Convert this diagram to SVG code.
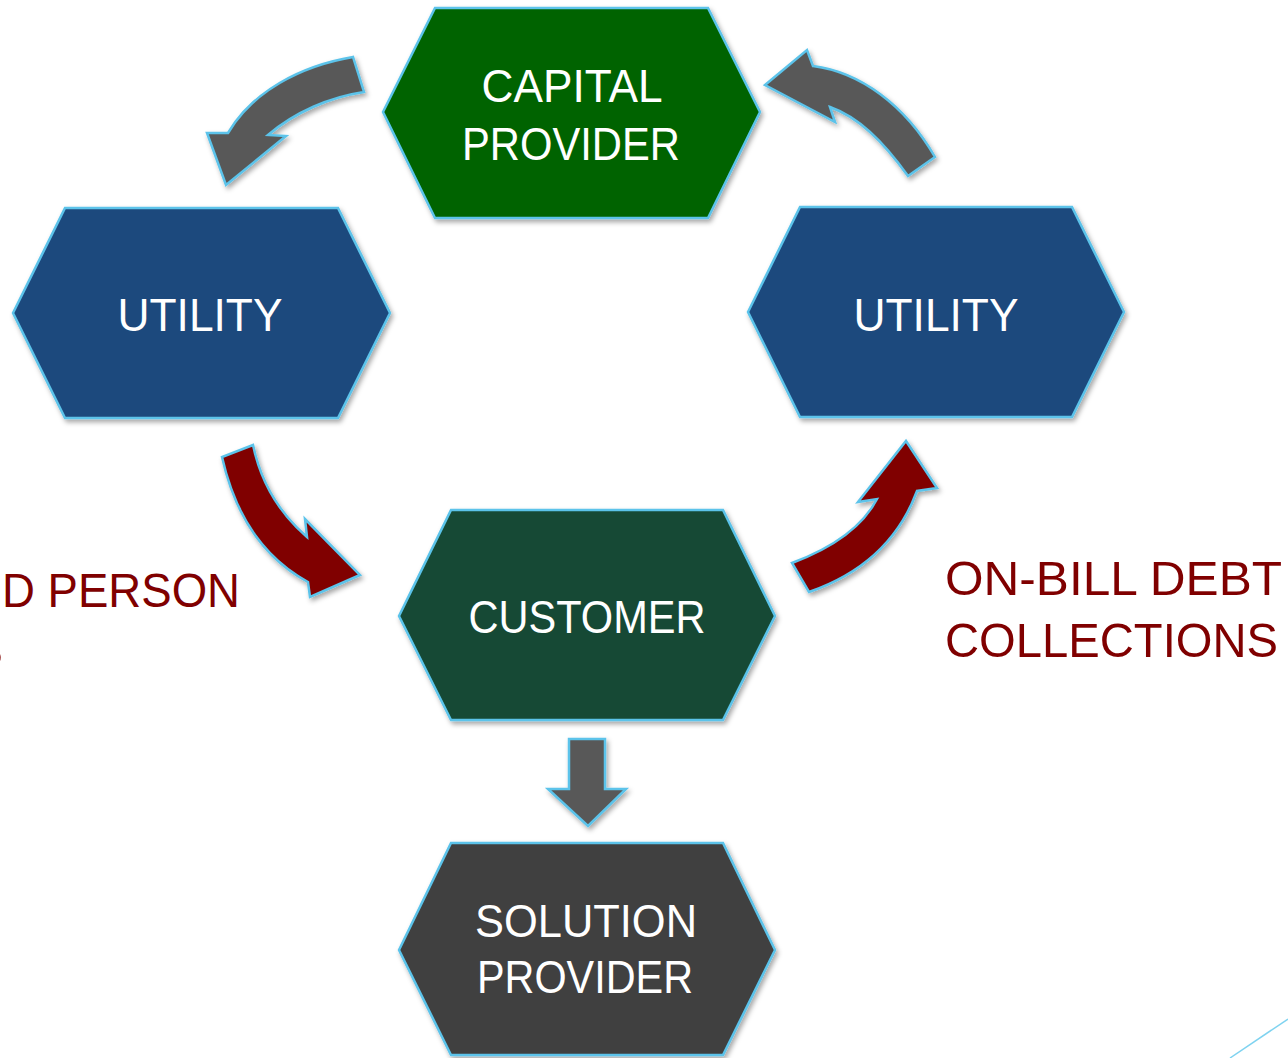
<svg xmlns="http://www.w3.org/2000/svg" width="1288" height="1058" viewBox="0 0 1288 1058">
<defs>
<filter id="sh" x="-10%" y="-10%" width="130%" height="130%">
<feDropShadow dx="2" dy="3" stdDeviation="2.5" flood-color="#000" flood-opacity="0.35"/>
</filter>
<style>
.hex{stroke:#5bc3ea;stroke-width:2.5;filter:url(#sh)}
.arr{stroke:#5bc3ea;stroke-width:2.5;stroke-linejoin:miter;filter:url(#sh)}
.gray{fill:#595959}
.red{fill:#800000}
.lbl{font-family:"Liberation Sans","DejaVu Sans",sans-serif;font-size:47px;fill:#ffffff;text-anchor:middle}
.side{font-family:"Liberation Sans","DejaVu Sans",sans-serif;font-size:49px;fill:#800000}
</style>
</defs>
<rect width="1288" height="1058" fill="#ffffff"/>
<g id="connectors">
<path class="arr gray" d="M353,57 C300,66 252,92 228,133 L207,133 L226,185 L286,136 L268,135 C295,112 330,97 364,92 Z"/>
<path class="arr gray" d="M765,85 L807,50 L813,66 C860,72 905,105 935,157 L908,176 C882,140 858,117 830,107 L835,122 Z"/>
<path class="arr red" d="M222,457 C235,515 262,557 308,582 L310,597 L360,575 L305,519 L307,537 C285,518 262,488 253,445 Z"/>
<path class="arr red" d="M792,563 C832,548 862,528 877,499 L858,502 L906,441 L937,488 L917,491 C897,545 858,575 809,592 Z"/>
<path class="arr gray" d="M569,739 L605,739 L605,789 L626,789 L588,826 L548,789 L569,789 Z"/>
</g>
<g id="capital-provider">
<polygon class="hex" fill="#006400" points="383,112 435,8 708,8 760,112 708,218 435,218"/>
<text class="lbl" x="572" y="102" textLength="181" lengthAdjust="spacingAndGlyphs">CAPITAL</text>
<text class="lbl" x="571" y="160" textLength="218" lengthAdjust="spacingAndGlyphs">PROVIDER</text>
</g>
<g id="utility-left">
<polygon class="hex" fill="#1f497d" points="13,313 65,208 338,208 390,313 338,418 65,418"/>
<text class="lbl" x="200" y="331" textLength="165" lengthAdjust="spacingAndGlyphs">UTILITY</text>
</g>
<g id="utility-right">
<polygon class="hex" fill="#1f497d" points="748,312 800,207 1072,207 1124,312 1072,417 800,417"/>
<text class="lbl" x="936" y="331" textLength="165" lengthAdjust="spacingAndGlyphs">UTILITY</text>
</g>
<g id="customer">
<polygon class="hex" fill="#174a34" points="399,616 451,510 723,510 775,616 723,720 451,720"/>
<text class="lbl" x="587" y="633" textLength="237" lengthAdjust="spacingAndGlyphs">CUSTOMER</text>
</g>
<g id="solution-provider">
<polygon class="hex" fill="#404040" points="399,950 451,843 723,843 775,950 723,1055 451,1055"/>
<text class="lbl" x="586" y="937" textLength="222" lengthAdjust="spacingAndGlyphs">SOLUTION</text>
<text class="lbl" x="585" y="993" textLength="216" lengthAdjust="spacingAndGlyphs">PROVIDER</text>
</g>
<g id="labels">
<text class="side" x="2" y="607" textLength="238" lengthAdjust="spacingAndGlyphs">D PERSON</text>
<text class="side" x="3" y="667" text-anchor="end">S</text>
<text class="side" x="945" y="595" textLength="337" lengthAdjust="spacingAndGlyphs">ON-BILL DEBT</text>
<text class="side" x="945" y="657" textLength="333" lengthAdjust="spacingAndGlyphs">COLLECTIONS</text>
</g>
<line x1="1230" y1="1058" x2="1288" y2="1019" stroke="#7fd3f0" stroke-width="1.5"/>
</svg>
